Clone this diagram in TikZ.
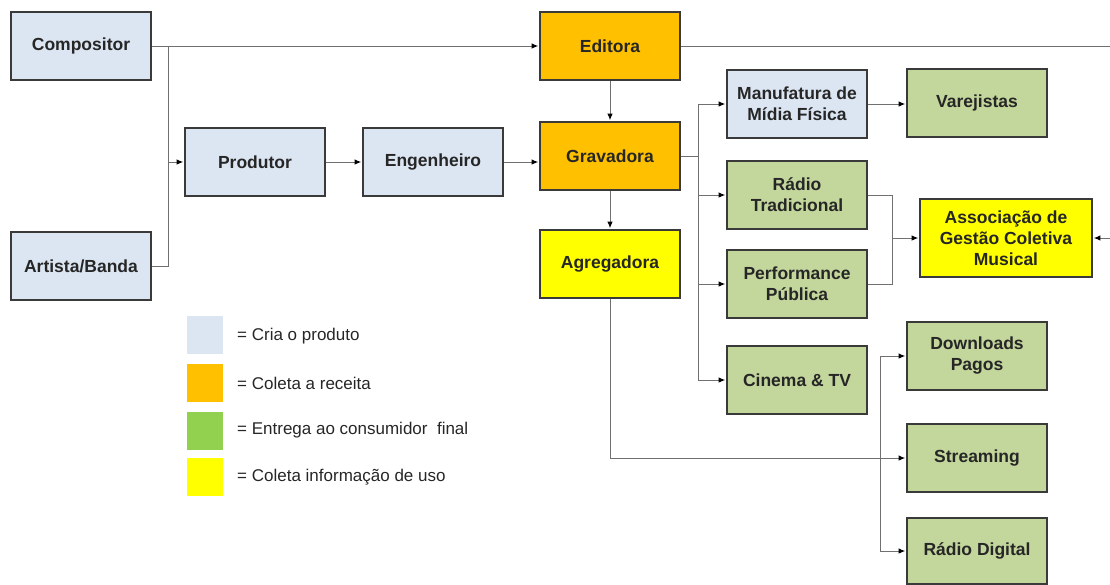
\documentclass[tikz,border=0pt]{standalone}
\usepackage{fontspec}
\setmainfont{Liberation Sans}
\usetikzlibrary{arrows.meta}
\pgfdeclarelayer{bg}
\pgfsetlayers{bg,main}
\definecolor{cblue}{HTML}{DCE6F2}
\definecolor{corange}{HTML}{FFC000}
\definecolor{cgreen}{HTML}{C3D69B}
\definecolor{cyellow}{HTML}{FFFF00}
\definecolor{lgreen}{HTML}{92D050}
\definecolor{bordc}{HTML}{3A3A3A}
\definecolor{linec}{HTML}{707070}
\tikzset{
  box/.style={draw=bordc, line width=2pt, minimum width=140pt, minimum height=68pt,
    align=center, inner sep=0pt, font=\bfseries\fontsize{17.5}{21}\selectfont, text=black!85},
  bluebox/.style={box, fill=cblue},
  orbox/.style={box, fill=corange},
  grbox/.style={box, fill=cgreen},
  yebox/.style={box, fill=cyellow},
  conn/.style={draw=linec, line width=1pt},
  arr/.style={conn, shorten >=0.8pt, -{Latex[length=6.5pt,width=5.5pt,color=black]}},
  legsq/.style={minimum width=36pt, minimum height=38pt, inner sep=0pt},
  legtxt/.style={anchor=west, inner sep=0pt, font=\fontsize{17}{20}\selectfont, text=black!85},
}
\begin{document}
\begin{tikzpicture}[x=1pt,y=-1pt]
\useasboundingbox (0,0) rectangle (1110,584);
% nodes
\node[bluebox] (comp) at (81,46) {Compositor};
\node[bluebox] (art) at (81,266) {Artista/Banda};
\node[bluebox] (prod) at (255,162) {Produtor};
\node[bluebox] (eng) at (433,162) {Engenheiro};
\node[orbox] (edit) at (610,46) {Editora};
\node[orbox] (grav) at (610,156) {Gravadora};
\node[yebox] (agr) at (610,264) {Agregadora};
\node[bluebox] (manu) at (797,104) {Manufatura de\\Mídia Física};
\node[grbox] (varej) at (977,103) {Varejistas};
\node[grbox] (radio) at (797,195) {Rádio\\Tradicional};
\node[grbox] (perf) at (797,284) {Performance\\Pública};
\node[yebox, minimum width=172pt, minimum height=78pt] (assoc) at (1006,238) {Associação de\\Gestão Coletiva\\Musical};
\node[grbox] (cine) at (797,380) {Cinema \& TV};
\node[grbox] (down) at (977,356) {Downloads\\Pagos};
\node[grbox] (stream) at (977,458) {Streaming};
\node[grbox, minimum height=66pt] (rdig) at (977,551) {Rádio Digital};
% junctions
\coordinate (jA) at (168,46);
\coordinate (jE) at (1125,46);
\coordinate (jG) at (698,156);
\coordinate (jR) at (892,238);
\coordinate (jS) at (880,458);
% connectors
\begin{pgfonlayer}{bg}
\draw[arr] (comp.east) -- (edit.west);
\draw[conn] (art.east) -| (jA);
\draw[arr] (jA |- prod.west) -- (prod.west);
\draw[arr] (prod.east) -- (eng.west);
\draw[arr] (eng.east) -- (eng.east -| grav.west);
\draw[arr] (edit.south) -- (grav.north);
\draw[arr] (grav.south) -- (agr.north);
\draw[arr] (edit.east) -- (jE) |- (assoc.east);
\draw[conn] (grav.east) -- (jG);
\draw[arr] (jG) |- (manu.west);
\draw[arr] (jG) |- (radio.west);
\draw[arr] (jG) |- (perf.west);
\draw[arr] (jG) |- (cine.west);
\draw[arr] (manu.east) -- (manu.east -| varej.west);
\draw[conn] (radio.east) -| (jR);
\draw[conn] (perf.east) -| (jR);
\draw[arr] (jR) -- (assoc.west);
\draw[arr] (agr.south) |- (stream.west);
\draw[arr] (jS) |- (down.west);
\draw[arr] (jS) |- (rdig.west);
\end{pgfonlayer}
% legend
\node[legsq, fill=cblue] (l1) at (205,335) {};
\node[legsq, fill=corange] (l2) at (205,383) {};
\node[legsq, fill=lgreen] (l3) at (205,431) {};
\node[legsq, fill=cyellow] (l4) at (205,477) {};
\node[legtxt] (t1) at (237,336) {= Cria o produto};
\node[legtxt] (t2) at (237,383) {= Coleta a receita};
\node[legtxt] (t3) at (237,430) {= Entrega ao consumidor\ \ final};
\node[legtxt] (t4) at (237,477) {= Coleta informação de uso};
\end{tikzpicture}
\end{document}
